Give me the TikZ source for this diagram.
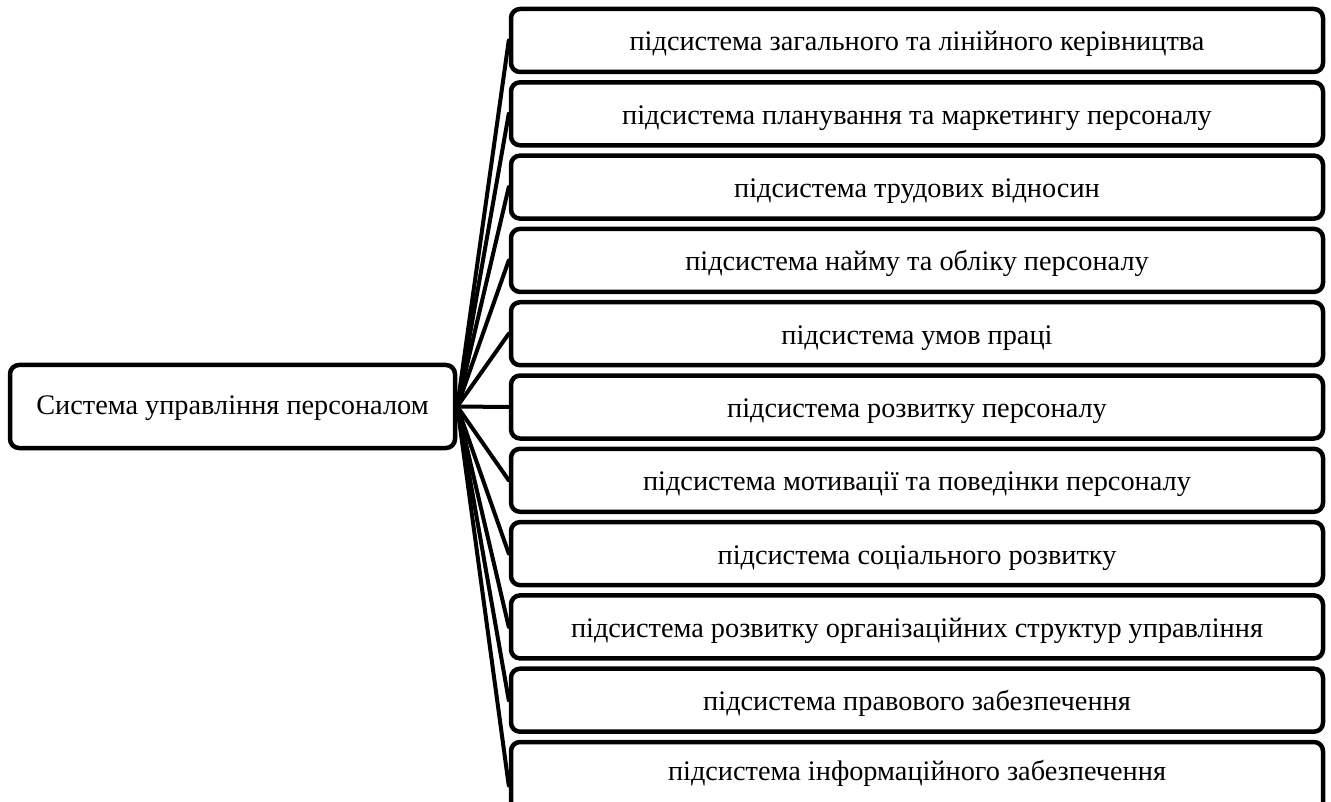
\documentclass[tikz,border=0pt]{standalone}
\usepackage{fontspec}
\setmainfont{Liberation Serif}
\usetikzlibrary{positioning}
\tikzset{
	sysbox/.style={draw, line width=4.5pt, rounded corners=9pt, minimum width=445pt, minimum height=83pt, inner sep=0pt, text height=16pt, text depth=0pt},
	subbox/.style={draw, line width=4.5pt, rounded corners=9pt, minimum width=812pt, minimum height=63pt, inner sep=0pt, text height=21pt, text depth=0pt},
	link/.style={line width=4pt}
}
\begin{document}
\begin{tikzpicture}[x=1pt, y=-1pt, font=\fontsize{28.3}{32}\selectfont, line join=round, line cap=round]
		\useasboundingbox (0,0) rectangle (1331,802);
		\node[sysbox] (sys) at (232.5,406.5) {Система управління персоналом};
		\node[subbox] (s1) at (917,40.5) {підсистема загального та лінійного керівництва};
		\node[subbox, below=5.8pt of s1] (s2) {підсистема планування та маркетингу персоналу};
		\node[subbox, below=5.8pt of s2] (s3) {підсистема трудових відносин};
		\node[subbox, below=5.8pt of s3] (s4) {підсистема найму та обліку персоналу};
		\node[subbox, below=5.8pt of s4] (s5) {підсистема умов праці};
		\node[subbox, below=5.8pt of s5] (s6) {підсистема розвитку персоналу};
		\node[subbox, below=5.8pt of s6] (s7) {підсистема мотивації та поведінки персоналу};
		\node[subbox, below=5.8pt of s7] (s8) {підсистема соціального розвитку};
		\node[subbox, below=5.8pt of s8] (s9) {підсистема розвитку організаційних структур управління};
		\node[subbox, below=5.8pt of s9] (s10) {підсистема правового забезпечення};
		% last box runs past the lower edge
		\node[subbox, below=5.8pt of s10, minimum height=75pt, text height=2pt] (s11) {підсистема інформаційного забезпечення};
		\coordinate (s11in) at ([yshift=-6pt]s11.west);
		% connectors
		\draw[link] (sys.east) -- (s1.west);
		\draw[link] (sys.east) -- (s2.west);
		\draw[link] (sys.east) -- (s3.west);
		\draw[link] (sys.east) -- (s4.west);
		\draw[link] (sys.east) -- (s5.west);
		\draw[link] (sys.east) -- (s6.west);
		\draw[link] (sys.east) -- (s7.west);
		\draw[link] (sys.east) -- (s8.west);
		\draw[link] (sys.east) -- (s9.west);
		\draw[link] (sys.east) -- (s10.west);
		\draw[link] (sys.east) -- (s11in);
	\end{tikzpicture}
\end{document}
